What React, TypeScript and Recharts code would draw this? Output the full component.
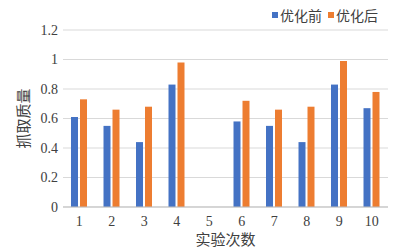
import React from 'react';
import { BarChart, Bar, XAxis, YAxis, CartesianGrid } from 'recharts';

// Values
const trials = ['1', '2', '3', '4', '5', '6', '7', '8', '9', '10'];
const before: (number | null)[] = [0.61, 0.55, 0.44, 0.83, null, 0.58, 0.55, 0.44, 0.83, 0.67];
const after: (number | null)[] = [0.73, 0.66, 0.68, 0.98, null, 0.72, 0.66, 0.68, 0.99, 0.78];
const yTicks = [0, 0.2, 0.4, 0.6, 0.8, 1, 1.2];

const BLUE = '#4472C4';
const ORANGE = '#ED7D31';
const FONT = '"Liberation Serif", serif';
const CJK = '"Noto Sans CJK SC", sans-serif';

const data = trials.map((t, i) => ({ trial: t, before: before[i], after: after[i] }));

const LegendBox = () => (
  <div
    style={{
      position: 'absolute',
      left: 272,
      top: 5,
      display: 'flex',
      alignItems: 'center',
      fontFamily: CJK,
      fontSize: 14,
      lineHeight: '20px',
      color: '#404040',
    }}
  >
    <span style={{ width: 6, height: 6, background: BLUE, marginRight: 2 }} />
    <span style={{ marginRight: 6 }}>优化前</span>
    <span style={{ width: 6, height: 6, background: ORANGE, marginRight: 2 }} />
    <span>优化后</span>
  </div>
);

export default function App() {
  return (
    <div style={{ position: 'absolute', left: 0, top: 0, width: 401, height: 249, background: '#fff' }}>
      <BarChart
        width={401}
        height={249}
        data={data}
        margin={{ top: 30, right: 13, left: 0, bottom: 12 }}
        barCategoryGap={8}
        barGap={2}
      >
        <CartesianGrid vertical={false} stroke="#d9d9d9" />
        <XAxis
          dataKey="trial"
          height={30}
          tickLine={false}
          axisLine={{ stroke: '#bfbfbf' }}
          tick={{ fontSize: 14, fill: '#404040', fontFamily: FONT }}
          tickMargin={3}
          label={{ value: '实验次数', position: 'insideBottom', offset: -8, fontSize: 15, fill: '#404040', fontFamily: CJK }}
        />
        <YAxis
          width={63}
          domain={[0, 1.2]}
          ticks={yTicks}
          tickLine={false}
          axisLine={false}
          tickSize={0}
          tickMargin={5}
          tick={{ fontSize: 14, fill: '#404040', fontFamily: FONT }}
          label={{ value: '抓取质量', angle: -90, position: 'insideLeft', offset: 24, fontSize: 15, fill: '#404040', fontFamily: CJK, style: { textAnchor: 'middle' } }}
        />
        <Bar dataKey="before" name="优化前" fill={BLUE} isAnimationActive={false} />
        <Bar dataKey="after" name="优化后" fill={ORANGE} isAnimationActive={false} />
      </BarChart>
      <LegendBox />
    </div>
  );
}
